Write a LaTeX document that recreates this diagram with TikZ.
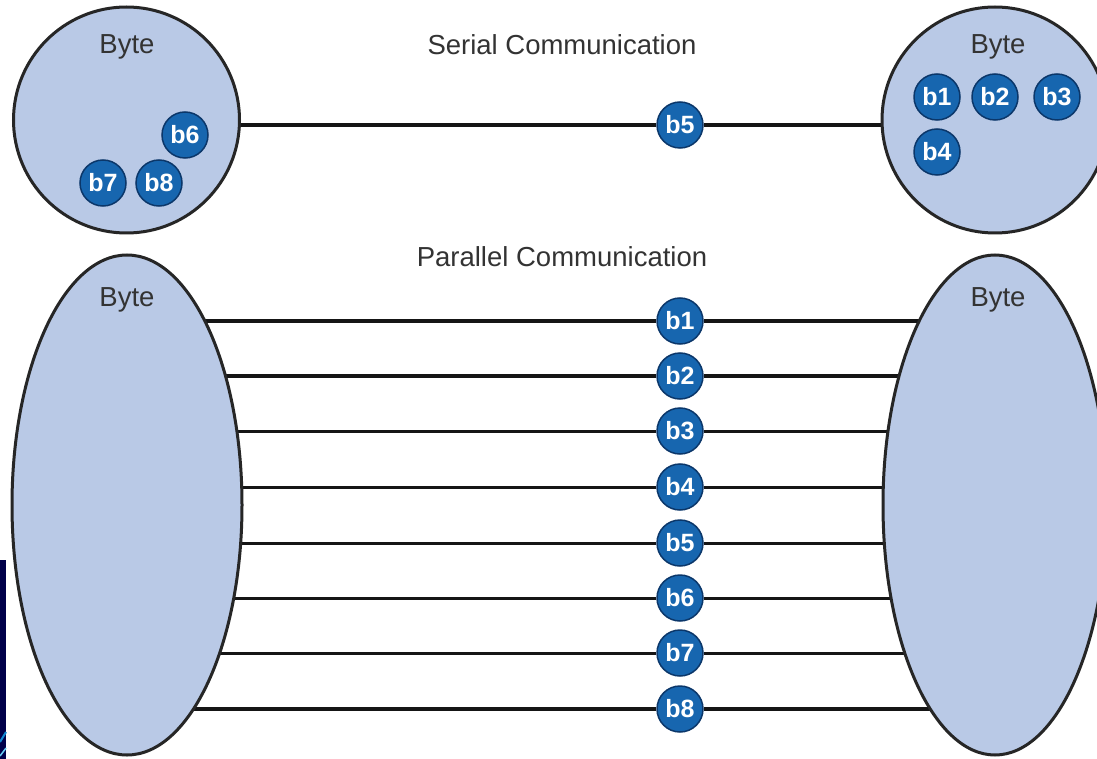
\documentclass[tikz,border=0pt]{standalone}
\usepackage{fontspec}
\setmainfont{Liberation Sans}
\usetikzlibrary{shapes.geometric,backgrounds}
\definecolor{bytefill}{HTML}{B9C9E6}
\definecolor{bitfill}{HTML}{1766AF}
\definecolor{bitedge}{HTML}{0B376A}
\definecolor{labelgray}{HTML}{333333}
\definecolor{navy}{HTML}{00004A}
\definecolor{wirecol}{HTML}{151515}
\begin{document}
\begin{tikzpicture}[x=1pt,y=-1pt,
  bytebox/.style={draw=black!85, line width=3pt, fill=bytefill, inner sep=0pt},
  bit/.style={circle, draw=bitedge, line width=1.5pt, fill=bitfill, minimum size=46pt,
    inner sep=0pt, text=white, font=\fontsize{25}{25}\selectfont\bfseries},
  lbl/.style={text=labelgray, anchor=base, inner sep=0pt, font=\fontsize{27.5}{27.5}\selectfont},
  wire/.style={draw=wirecol, line width=4pt},
  thinwire/.style={draw=wirecol, line width=3pt}]
\useasboundingbox (0,0) rectangle (1097,759);

% byte containers
\node[bytebox, circle, minimum size=226pt] (SL) at (126.5,120) {};
\node[bytebox, circle, minimum size=226pt] (SR) at (995,120) {};
\node[bytebox, ellipse, minimum width=230pt, minimum height=500pt] (PL) at (127,505) {};
\node[bytebox, ellipse, minimum width=224pt, minimum height=500pt] (PR) at (995,505) {};

% labels
\node[lbl] (tSL) at (127,54) {Byte};
\node[lbl] (tSR) at (998,54) {Byte};
\node[lbl] (tS) at (562,55) {Serial Communication};
\node[lbl] (tP) at (562,266) {Parallel Communication};
\node[lbl] (tPL) at (127,306) {Byte};
\node[lbl] (tPR) at (998,306) {Byte};

% serial bits
\node[bit] (s6) at (185,135) {b6};
\node[bit] (s7) at (103,183) {b7};
\node[bit] (s8) at (159,183) {b8};
\node[bit] (s5) at (680,125) {b5};
\node[bit] (s1) at (937,97) {b1};
\node[bit] (s2) at (995,97) {b2};
\node[bit] (s3) at (1057,97) {b3};
\node[bit] (s4) at (937,152) {b4};

% parallel bits
\node[bit] (p1) at (680,321) {b1};
\node[bit] (p2) at (680,376) {b2};
\node[bit] (p3) at (680,431) {b3};
\node[bit] (p4) at (680,487) {b4};
\node[bit] (p5) at (680,543) {b5};
\node[bit] (p6) at (680,598) {b6};
\node[bit] (p7) at (680,653) {b7};
\node[bit] (p8) at (680,709) {b8};

\begin{scope}[on background layer]
  \fill[white] (0,0) rectangle (1097,759);
  \draw[wire] (SL.center |- s5) -- (s5) -- (SR.center |- s5);
  \draw[wire] (PL.center |- p1) -- (p1) -- (PR.center |- p1);
  \draw[wire] (PL.center |- p2) -- (p2) -- (PR.center |- p2);
  \draw[thinwire] (PL.center |- p3) -- (p3) -- (PR.center |- p3);
  \draw[thinwire] (PL.center |- p4) -- (p4) -- (PR.center |- p4);
  \draw[thinwire] (PL.center |- p5) -- (p5) -- (PR.center |- p5);
  \draw[thinwire] (PL.center |- p6) -- (p6) -- (PR.center |- p6);
  \draw[thinwire] (PL.center |- p7) -- (p7) -- (PR.center |- p7);
  \draw[wire] (PL.center |- p8) -- (p8) -- (PR.center |- p8);
\end{scope}

% slide-edge remnant at lower left
\fill[navy] (0,560) rectangle (6,759);
\draw[cyan!70!blue, line width=2pt] (0,742) -- (6,732);
\draw[cyan!60, line width=1.5pt] (0,756) -- (6,748);
\end{tikzpicture}
\end{document}
